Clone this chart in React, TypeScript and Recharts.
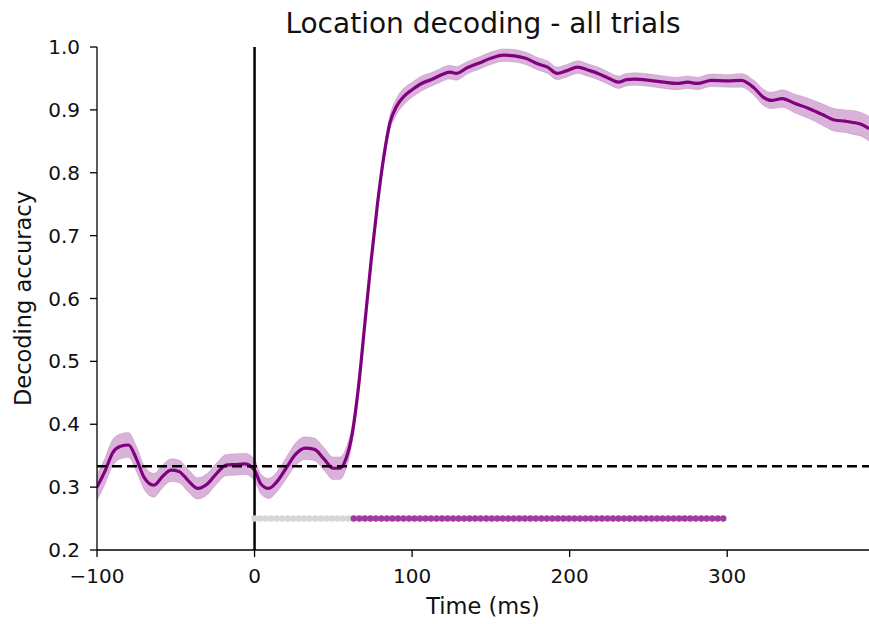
import {
  ComposedChart,
  Area,
  Line,
  Scatter,
  XAxis,
  YAxis,
  ReferenceLine,
} from 'recharts';

// time (ms) of each sample
const times = [
  -100, -95, -90, -85, -80, -75, -70, -64, -58, -53, -48, -42, -36, -30, -24, -18, -12, -6,
  0, 4, 9, 14, 20, 26, 32, 38, 44, 50, 54, 58, 62, 66, 70, 74, 78, 82, 86, 90, 95, 100,
  106, 112, 118, 124, 128, 135, 143, 150, 158, 165, 172, 180, 186, 192, 198, 205, 212, 218,
  225, 231, 236, 241, 251, 260, 268, 275, 281, 290, 300, 309, 317, 323, 328, 335, 343, 351,
  360, 368, 375, 380, 385, 390,
];

// mean decoding accuracy
const accuracy = [
  0.300, 0.325, 0.355, 0.365, 0.367, 0.345, 0.315, 0.303, 0.318, 0.327, 0.325, 0.310, 0.298,
  0.305, 0.322, 0.335, 0.336, 0.337,
  0.327, 0.305, 0.298, 0.308, 0.330, 0.352, 0.362, 0.360, 0.345, 0.330, 0.330, 0.345, 0.385,
  0.460, 0.560, 0.660, 0.750, 0.825, 0.880, 0.905, 0.922, 0.932,
  0.942, 0.948, 0.955, 0.960, 0.958, 0.967, 0.975, 0.982, 0.987, 0.986, 0.982, 0.973, 0.968,
  0.958, 0.962, 0.968, 0.963, 0.958,
  0.950, 0.944, 0.948, 0.949, 0.947, 0.944, 0.942, 0.944, 0.942, 0.947, 0.946, 0.947, 0.935,
  0.920, 0.915, 0.918, 0.910, 0.903,
  0.893, 0.884, 0.882, 0.880, 0.877, 0.870,
];

// half width of the shaded error band
const errors = [
  0.021, 0.021, 0.021, 0.020, 0.020, 0.020, 0.019, 0.019, 0.018, 0.018, 0.018, 0.018, 0.017,
  0.017, 0.017, 0.017, 0.017, 0.017,
  0.017, 0.016, 0.016, 0.016, 0.017, 0.018, 0.018, 0.018, 0.018, 0.018, 0.018, 0.017, 0.014,
  0.012, 0.010, 0.010, 0.010, 0.011, 0.012, 0.013, 0.013, 0.012,
  0.012, 0.011, 0.011, 0.011, 0.011, 0.010, 0.010, 0.010, 0.010, 0.010, 0.010, 0.010, 0.010,
  0.010, 0.010, 0.010, 0.010, 0.010,
  0.010, 0.010, 0.010, 0.010, 0.010, 0.010, 0.010, 0.010, 0.010, 0.010, 0.010, 0.011, 0.012,
  0.013, 0.013, 0.014, 0.015, 0.016,
  0.017, 0.018, 0.018, 0.019, 0.019, 0.020,
];

// significance markers: sample grid from 0 to 300 ms, significant from 62 ms
const sigGrid = { start: 0, end: 300, step: 3.5 };
const sigOnset = 62;
const sigLevel = 0.25;
const chance = 1 / 3;

const xTicks = [-100, 0, 100, 200, 300];
const yTicks = [0.2, 0.3, 0.4, 0.5, 0.6, 0.7, 0.8, 0.9, 1.0];

const PURPLE = '#800080';
const FONT = 'DejaVu Sans, sans-serif';

const curve = times.map((t, i) => ({
  t,
  acc: accuracy[i],
  band: [accuracy[i] - errors[i], accuracy[i] + errors[i]],
}));

const sigTimes: number[] = [];
for (let t = sigGrid.start; t <= sigGrid.end + 0.01; t += sigGrid.step) sigTimes.push(t);
const sigOff = sigTimes.filter((t) => t < sigOnset).map((t) => ({ t, y: sigLevel }));
const sigOn = sigTimes.filter((t) => t >= sigOnset).map((t) => ({ t, y: sigLevel }));

const fmtX = (v: number) => (v < 0 ? `\u2212${Math.abs(v)}` : `${v}`);

const dot = (color: string) => (props: any) => (
  <circle cx={props.cx} cy={props.cy} r={3.2} fill={color} />
);

export default function App() {
  return (
    <div
      style={{
        position: 'absolute',
        left: 0,
        top: 0,
        width: 869,
        height: 624,
        fontFamily: FONT,
        background: '#fff',
      }}
    >
      <div
        style={{
          position: 'absolute',
          left: 97,
          width: 772,
          top: 7,
          textAlign: 'center',
          fontSize: 28,
          color: '#111',
          lineHeight: 1.2,
        }}
      >
        Location decoding - all trials
      </div>
      <ComposedChart
        width={869}
        height={624}
        margin={{ top: 47, right: 0, bottom: 0, left: 0 }}
        style={{ fontFamily: FONT }}
      >
        <XAxis
          dataKey="t"
          type="number"
          domain={[-100, 390]}
          allowDataOverflow
          ticks={xTicks}
          tickFormatter={fmtX}
          height={74}
          tickSize={7}
          tickMargin={12}
          stroke="#000"
          strokeWidth={1.3}
          tick={{ fill: '#111', fontSize: 20 }}
          label={{ value: 'Time (ms)', position: 'insideBottom', offset: 10, fontSize: 22.5, fill: '#111' }}
        />
        <YAxis
          type="number"
          domain={[0.2, 1.0]}
          allowDataOverflow
          ticks={yTicks}
          tickFormatter={(v: number) => v.toFixed(1)}
          width={97}
          tickSize={7}
          tickMargin={10}
          stroke="#000"
          strokeWidth={1.3}
          tick={{ fill: '#111', fontSize: 20 }}
          label={{
            value: 'Decoding accuracy',
            angle: -90,
            position: 'insideLeft',
            offset: 23,
            fontSize: 22.5,
            fill: '#111',
            textAnchor: 'middle',
          }}
        />
        <Area
          data={curve}
          dataKey="band"
          type="monotone"
          stroke={PURPLE}
          strokeOpacity={0.15}
          fill={PURPLE}
          fillOpacity={0.3}
          isAnimationActive={false}
        />
        <Line
          data={curve}
          dataKey="acc"
          type="monotone"
          stroke={PURPLE}
          strokeWidth={3.2}
          dot={false}
          isAnimationActive={false}
        />
        <ReferenceLine y={chance} stroke="#000" strokeWidth={2.5} strokeDasharray="10 5" />
        <ReferenceLine x={0} stroke="#000" strokeWidth={2.5} />
        <Scatter data={sigOff} dataKey="y" shape={dot('#d6d6d6')} isAnimationActive={false} />
        <Scatter data={sigOn} dataKey="y" shape={dot('#a03aa0')} isAnimationActive={false} />
      </ComposedChart>
    </div>
  );
}
